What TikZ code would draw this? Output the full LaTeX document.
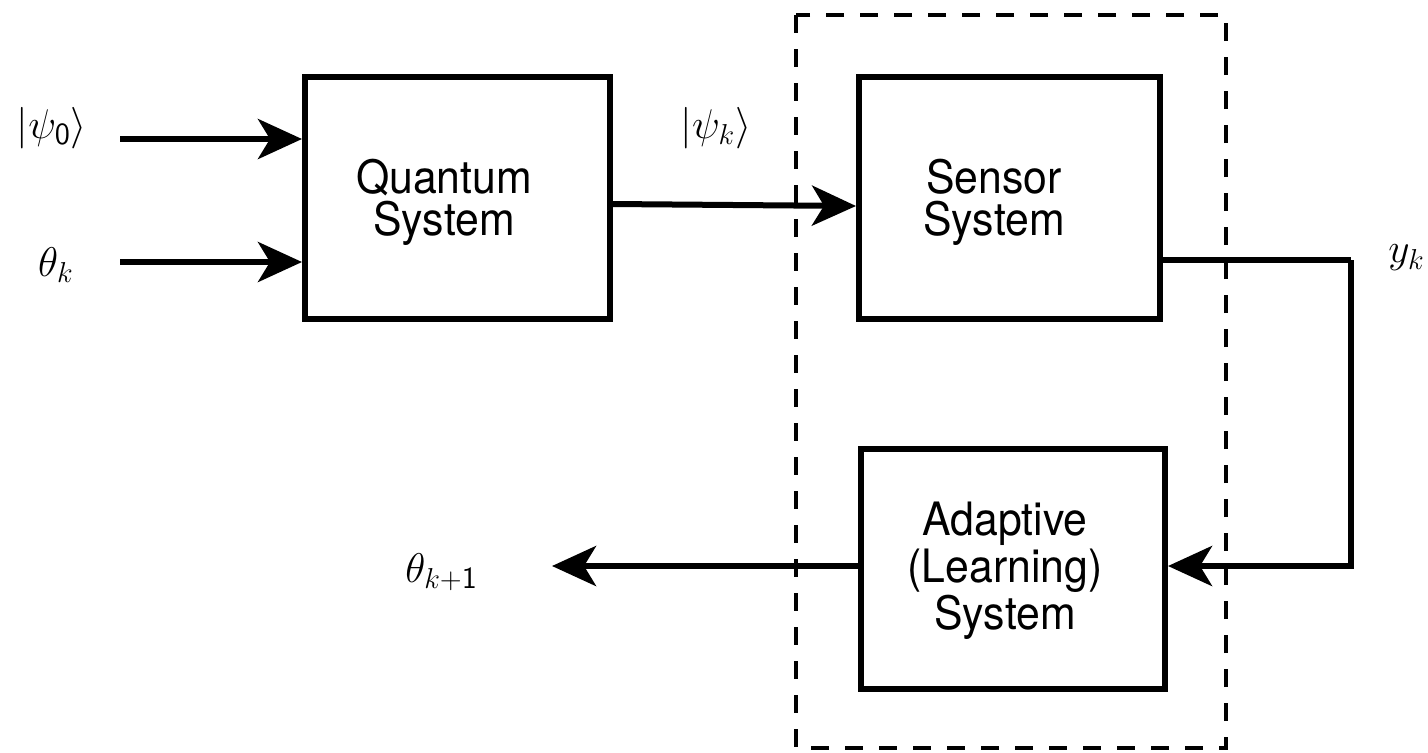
\documentclass[tikz,border=0pt]{standalone}
\usepackage{fontspec}
\newfontfamily\heros[FakeStretch=0.93]{TeX Gyre Heros}
\usetikzlibrary{arrows.meta}
\begin{document}
\begin{tikzpicture}[x=0.5pt,y=-0.5pt,
  block/.style={draw, line width=3pt, inner sep=0pt},
  blocktext/.style={align=center, inner sep=0pt,
    font=\heros\fontsize{23}{21}\selectfont},
  arr/.style={line width=3pt, -{Stealth[length=22pt,width=20pt,inset=6pt]}},
  wire/.style={line width=3pt},
  lab/.style={font=\fontsize{22}{26}\selectfont, inner sep=0pt}]
\useasboundingbox (0,0) rectangle (1428,752);

% blocks
\node[block, minimum width=152.5pt, minimum height=121pt] (q) at (457.5,198) {};
\node[blocktext] (qt) at (444,202) {Quantum\\System};
\node[block, minimum width=150.5pt, minimum height=121pt] (s) at (1009.5,198) {};
\node[blocktext] (st) at (994,202) {Sensor\\System};
\node[block, minimum width=152pt, minimum height=120pt] (a) at (1013,569) {};
\node[blocktext, font=\heros\fontsize{23}{23.5}\selectfont] (at) at (1005,571) {Adaptive\\(Learning)\\System};

% dashed enclosure around sensor and learning blocks
\draw[line width=1.8pt, dash pattern=on 9pt off 8pt] (796,15) rectangle (1226,748);

% inputs
\coordinate (in1) at (120,139);
\coordinate (in2) at (120,262);
\draw[arr] (in1) -- (q.west |- in1);
\draw[arr] (in2) -- (q.west |- in2);
\node[lab] (l0) at (52,128) {$|\psi_{\mathsf{0}}\rangle$};
\node[lab] (lt) at (56,265) {$\theta_k$};

% quantum -> sensor
\draw[arr] (q.east |- 0,204) -- (s.west |- 0,206);
\node[lab] (lk) at (716,128) {$|\psi_k\rangle$};

% sensor -> learning feedback
\coordinate (c1) at (1351,260);
\draw[wire] (s.east |- c1) -- (c1);
\draw[arr] (c1) |- (a.east |- 0,566);
\node[lab, anchor=west] (ly) at (1388,258) {$y_k$};

% learning output
\coordinate (out) at (552,566);
\draw[arr] (a.west |- out) -- (out);
\node[lab, anchor=west] (lo) at (405,572) {$\theta_{k+\mathsf{1}}$};
\end{tikzpicture}
\end{document}
